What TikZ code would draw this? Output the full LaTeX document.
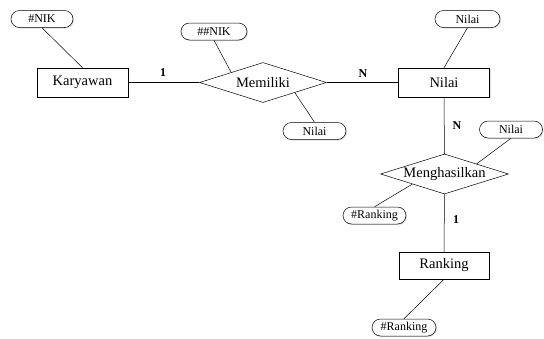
\documentclass[tikz,border=0pt]{standalone}
\usepackage{fontspec}
\setmainfont{Liberation Serif}
\usetikzlibrary{shapes.geometric,shadows}
\begin{document}
\begin{tikzpicture}[x=1pt,y=-1pt,
  every path/.style={line width=0.5pt},
  entity/.style={draw,fill=white,minimum width=91pt,minimum height=29pt,inner sep=0pt,font=\fontsize{14.5}{16}\selectfont,
    drop shadow={opacity=0.25,shadow xshift=1pt,shadow yshift=-1pt}},
  rel/.style={draw,fill=white,diamond,aspect=3.2,minimum width=127pt,minimum height=40pt,inner sep=0pt,font=\fontsize{14.5}{16}\selectfont},
  attr/.style={draw,fill=white,rounded corners=8.5pt,minimum width=64pt,minimum height=17pt,inner sep=0pt,font=\fontsize{12}{13}\selectfont,
    drop shadow={opacity=0.25,shadow xshift=1pt,shadow yshift=-1pt}},
  card/.style={font=\fontsize{12}{13}\selectfont\bfseries,inner sep=0pt}]
\useasboundingbox (0,0) rectangle (544,338);
\node[entity] (kary) at (82.5,82.5) {Karyawan};
\node[entity] (nilai) at (444,82.5) {Nilai};
\node[entity,minimum width=90pt,minimum height=27pt] (rank) at (444,265.5) {Ranking};
\node[rel] (mem) at (263,82.5) {Memiliki};
\node[rel,minimum width=128pt] (mgh) at (444.5,174) {Menghasilkan};
\node[attr,minimum width=62pt] (anik) at (42,19) {\#NIK};
\node[attr,minimum width=66pt] (anik2) at (214,31.5) {\#\#NIK};
\node[attr,minimum width=63pt] (anil1) at (314.5,131) {Nilai};
\node[attr,minimum width=65pt] (anil2) at (467.5,19) {Nilai};
\node[attr,minimum width=63pt] (anil3) at (511,129.5) {Nilai};
\node[attr,minimum width=63pt] (arank1) at (374.5,215.5) {\#Ranking};
\node[attr,minimum width=64pt] (arank2) at (404,327.5) {\#Ranking};
\draw (anik.south) -- (kary.north);
\draw (kary.east) -- (mem.west);
\draw (mem.east) -- (nilai.west);
\draw (anik2.south) -- (mem.north west);
\draw (anil1.north) -- (mem.south east);
\draw (anil2.south) -- (nilai.north);
\draw (nilai.south) -- (mgh.north);
\draw (anil3.south) -- (mgh.north east);
\draw (arank1.north) -- (mgh.south west);
\draw (mgh.south) -- (rank.north);
\draw (arank2.north) -- (rank.south);
\node[card] (c1) at (163,73) {1};
\node[card] (c2) at (363,73.5) {N};
\node[card] (c3) at (457,126) {N};
\node[card] (c4) at (456,219.5) {1};
\end{tikzpicture}
\end{document}
